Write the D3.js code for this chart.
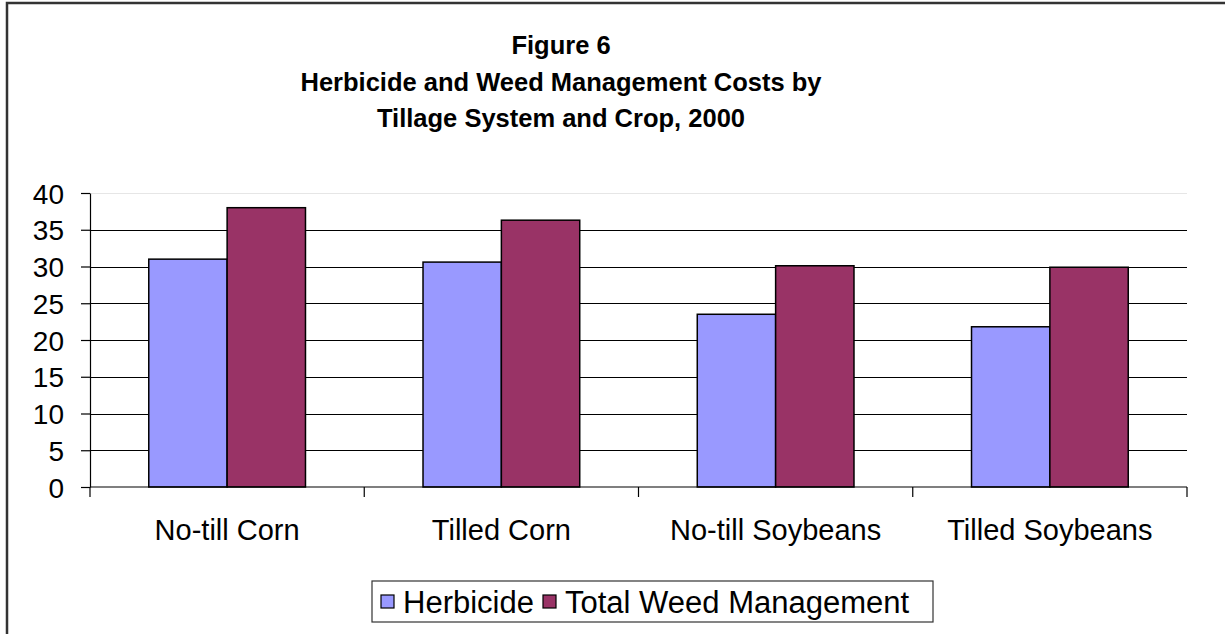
<!DOCTYPE html>
<html>
<head>
<meta charset="utf-8">
<script src="https://cdn.jsdelivr.net/npm/d3@7"></script>
<style>
  body { margin: 0; background: #fff; }
  text { font-family: "Liberation Sans", Arial, sans-serif; fill: #000; }
</style>
</head>
<body>
<div id="chart"></div>
<script>
// chart values
var categories = ["No-till Corn", "Tilled Corn", "No-till Soybeans", "Tilled Soybeans"];
var seriesNames = ["Herbicide", "Total Weed Management"];
var herbicide = [31.0, 30.6, 23.5, 21.8];
var totalWeed = [38.0, 36.3, 30.1, 29.9];
var yTicks = [0, 5, 10, 15, 20, 25, 30, 35, 40];
var titleLines = ["Figure 6", "Herbicide and Weed Management Costs by", "Tillage System and Crop, 2000"];

var colors = {"Herbicide": "#9999ff", "Total Weed Management": "#993366"};

var width = 1225, height = 634;
var plotLeft = 90, plotRight = 1187, plotTop = 193, plotBottom = 487;

var svg = d3.select("#chart").append("svg")
    .attr("width", width)
    .attr("height", height);

svg.append("rect").attr("width", width).attr("height", height).attr("fill", "#fff");

// outer border (runs off the right and bottom edges)
svg.append("rect")
    .attr("x", 7).attr("y", 3)
    .attr("width", width + 20).attr("height", height + 20)
    .attr("fill", "none")
    .attr("stroke", "#333")
    .attr("stroke-width", 2.5);

// title
svg.append("g").selectAll("text").data(titleLines).enter().append("text")
    .attr("x", 561)
    .attr("y", function(d, i){ return 54 + i * 36.5; })
    .attr("text-anchor", "middle")
    .style("font-weight", "bold")
    .style("font-size", "25.5px")
    .text(function(d){ return d; });

var x = d3.scaleBand().domain(categories).range([plotLeft, plotRight]).padding(0);
var xInner = d3.scaleBand().domain(seriesNames).range([0, x.bandwidth()]).paddingInner(0).paddingOuter(0.75);
var y = d3.scaleLinear().domain([0, 40]).range([plotBottom, plotTop]);

// gridlines
svg.append("g").selectAll("line").data(yTicks.filter(function(d){ return d > 0; })).enter().append("line")
    .attr("x1", plotLeft).attr("x2", plotRight)
    .attr("y1", function(d){ return Math.round(y(d)) + 0.5; })
    .attr("y2", function(d){ return Math.round(y(d)) + 0.5; })
    .attr("stroke", function(d){ return d === 40 ? "#e6e6e6" : "#000"; })
    .attr("stroke-width", 1.2);

// bars
var rows = categories.map(function(c, i){
  return {cat: c, vals: [{s: seriesNames[0], v: herbicide[i]}, {s: seriesNames[1], v: totalWeed[i]}]};
});

var groups = svg.append("g").selectAll("g").data(rows).enter().append("g")
    .attr("transform", function(d){ return "translate(" + x(d.cat) + ",0)"; });

groups.selectAll("rect").data(function(d){ return d.vals; }).enter().append("rect")
    .attr("x", function(d){ return xInner(d.s); })
    .attr("y", function(d){ return y(d.v); })
    .attr("width", xInner.bandwidth())
    .attr("height", function(d){ return y(0) - y(d.v); })
    .attr("fill", function(d){ return colors[d.s]; })
    .attr("stroke", "#000")
    .attr("stroke-width", 1.5);

// y axis
var yAxis = d3.axisLeft(y).tickValues(yTicks).tickSize(9).tickPadding(17).tickSizeOuter(0);
var yg = svg.append("g").attr("transform", "translate(" + plotLeft + ",0)").call(yAxis);
yg.selectAll("text").style("font-size", "28px").style("font-family", "Liberation Sans, Arial, sans-serif").attr("dy", "0.36em");
yg.select(".domain").attr("stroke-width", 1.2);
yg.selectAll(".tick line").attr("stroke-width", 1.2);

// x axis with ticks between categories
var xg = svg.append("g").attr("transform", "translate(0," + plotBottom + ")");
xg.append("line").attr("x1", plotLeft).attr("x2", plotRight).attr("stroke", "#000").attr("stroke-width", 1.2);
var boundaries = categories.map(function(c){ return x(c); }).concat([plotRight]);
xg.selectAll(".tk").data(boundaries).enter().append("line")
    .attr("x1", function(d){ return d; }).attr("x2", function(d){ return d; })
    .attr("y1", 0).attr("y2", 10)
    .attr("stroke", "#000").attr("stroke-width", 1.2);
xg.selectAll(".lbl").data(categories).enter().append("text")
    .attr("x", function(d){ return x(d) + x.bandwidth() / 2; })
    .attr("y", 53)
    .attr("text-anchor", "middle")
    .style("font-size", "29px")
    .text(function(d){ return d; });

// legend
var lg = svg.append("g").attr("transform", "translate(372,581)");
lg.append("rect").attr("width", 561).attr("height", 41)
    .attr("fill", "#fff").attr("stroke", "#333").attr("stroke-width", 1.2);
var legendX = [9, 171];
var items = lg.selectAll(".it").data(seriesNames).enter().append("g")
    .attr("transform", function(d, i){ return "translate(" + legendX[i] + ",0)"; });
items.append("rect").attr("x", 0).attr("y", 14).attr("width", 13).attr("height", 13)
    .attr("fill", function(d){ return colors[d]; })
    .attr("stroke", "#000").attr("stroke-width", 1.2);
items.append("text").attr("x", 22).attr("y", 31.5)
    .style("font-size", "31px")
    .text(function(d){ return d; });
</script>
</body>
</html>
